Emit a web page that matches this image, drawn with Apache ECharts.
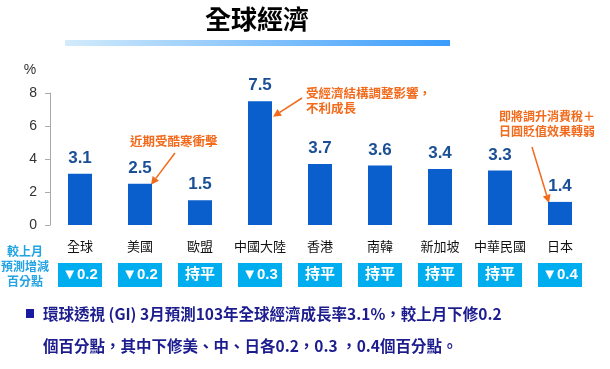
<!DOCTYPE html>
<html><head><meta charset="utf-8">
<script src="https://cdn.jsdelivr.net/npm/echarts@6/dist/echarts.min.js"></script>
<style>html,body{margin:0;padding:0;background:#fff}#c{width:610px;height:369px}</style>
</head><body><div id="c"></div>
<script>
const categories = ['全球','美國','歐盟','中國大陸','香港','南韓','新加坡','中華民國','日本'];
const growth = [3.1, 2.5, 1.5, 7.5, 3.7, 3.6, 3.4, 3.3, 1.4];
const revisions = ['▼0.2','▼0.2','持平','▼0.3','持平','持平','持平','持平','▼0.4'];
const yTicks = [0, 2, 4, 6, 8];
const titleText = '全球經濟';
const sideNote = '較上月\n預測增減\n百分點';
const footer1 = '環球透視 (GI) 3月預測103年全球經濟成長率3.1%，較上月下修0.2';
const footer2 = '個百分點，其中下修美、中、日各0.2，0.3 ，0.4個百分點。';
const notes = [
  {idx: 1, text: '近期受酷寒衝擊'},
  {idx: 3, text: '受經濟結構調整影響，\n不利成長'},
  {idx: 8, text: '即將調升消費稅＋\n日圓貶值效果轉弱'}
];

const FONT = '"Liberation Sans", Arial, "Noto Sans CJK TC", sans-serif';
const CJK = '"Noto Sans CJK TC", "Liberation Sans", sans-serif';
const chart = echarts.init(document.getElementById('c'));
const ORANGE = '#f26a1b';

const option = {
  animation: false,
  grid: {left: 50, right: 20, top: 93, bottom: 144},
  xAxis: {
    type: 'category', data: categories,
    axisLine: {show: false}, axisTick: {show: false},
    axisLabel: {
      margin: 11, interval: 0,
      formatter: (v, i) => '{n|' + v + '}\n{b|' + revisions[i] + '}',
      rich: {
        n: {fontSize: 13, color: '#111', fontFamily: CJK, lineHeight: 20},
        b: {fontSize: 15, color: '#fff', fontWeight: 'bold', fontFamily: FONT,
            backgroundColor: '#00adef', width: 44, height: 24, align: 'center', lineHeight: 38}
      }
    }
  },
  yAxis: {
    type: 'value', min: yTicks[0], max: yTicks[yTicks.length-1], interval: 2,
    name: '%', nameLocation: 'end', nameGap: 16,
    nameTextStyle: {fontSize: 14, color: '#333', fontFamily: FONT, padding: [0, 40, 0, 0]},
    axisLine: {show: true, lineStyle: {color: '#aaa'}},
    axisTick: {show: true, length: 5, lineStyle: {color: '#aaa'}},
    splitLine: {show: false},
    axisLabel: {fontSize: 14, color: '#333', fontFamily: FONT, margin: 13}
  },
  series: [{
    type: 'bar', data: growth, barWidth: 24,
    itemStyle: {color: '#0a5fcd'},
    label: {show: true, position: 'top', distance: 7, color: '#1a4f96',
            fontWeight: 'bold', fontSize: 17, fontFamily: FONT}
  }]
};
chart.setOption(option);

function px(i, v) { return chart.convertToPixel({seriesIndex: 0}, [i, v]); }
function arrow(x1, y1, x2, y2) {
  const a = Math.atan2(y2 - y1, x2 - x1), L = 8, W = 4;
  const bx = x2 - L * Math.cos(a), by = y2 - L * Math.sin(a);
  return [
    {type: 'line', shape: {x1, y1, x2: bx, y2: by}, style: {stroke: ORANGE, lineWidth: 1.5}},
    {type: 'polygon', shape: {points: [[x2, y2], [bx + W * Math.sin(a), by - W * Math.cos(a)], [bx - W * Math.sin(a), by + W * Math.cos(a)]]},
     style: {fill: ORANGE}}
  ];
}
const p1 = px(notes[0].idx, growth[notes[0].idx]);
const p2 = px(notes[1].idx, growth[notes[1].idx] - 1);
const p3 = px(notes[2].idx, growth[notes[2].idx]);

const g = [
  {type: 'text', x: 257, y: 6, style: {text: titleText, font: 'bold 26px ' + CJK, fill: '#000', align: 'center'}},
  {type: 'rect', shape: {x: 65, y: 40, width: 385, height: 6},
   style: {fill: new echarts.graphic.LinearGradient(0, 0, 1, 0, [{offset: 0, color: '#d3ebfb'}, {offset: 1, color: '#3a9cfb'}])}},
  {type: 'text', x: 25, y: 244, style: {text: sideNote, font: 'bold 12px ' + CJK, fill: '#23a3e3', align: 'center', lineHeight: 15}},
  {type: 'rect', shape: {x: 26, y: 309, width: 8, height: 9}, style: {fill: '#1a1a9e'}},
  {type: 'text', x: 43, y: 306, style: {text: footer1, font: 'bold 15.5px ' + CJK, fill: '#1c1c8e'}},
  {type: 'text', x: 43, y: 338, style: {text: footer2, font: 'bold 15.5px ' + CJK, fill: '#1c1c8e'}},
  {type: 'text', x: 130, y: 135, style: {text: notes[0].text, font: 'bold 12.5px ' + CJK, fill: ORANGE}},
  {type: 'text', x: 306, y: 86, style: {text: notes[1].text, font: 'bold 12.5px ' + CJK, fill: ORANGE, lineHeight: 15}},
  {type: 'text', x: 499, y: 109, style: {text: notes[2].text, font: 'bold 12px ' + CJK, fill: ORANGE, lineHeight: 15}}
].concat(
  arrow(175, 153, p1[0] + 11, p1[1] + 1),
  arrow(302, 98, p2[0] + 13, p2[1] - 1),
  arrow(532, 147, p3[0] - 11, p3[1] + 1)
);
chart.setOption({graphic: g});
</script></body></html>
